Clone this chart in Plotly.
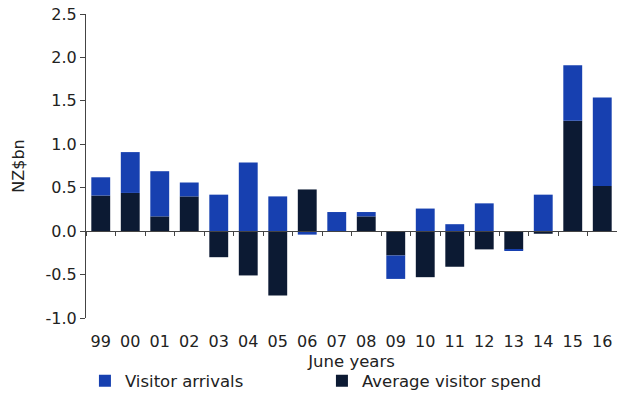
import plotly.graph_objects as go

# June years (two-digit labels)
years = ["99", "00", "01", "02", "03", "04", "05", "06", "07",
         "08", "09", "10", "11", "12", "13", "14", "15", "16"]

# Contribution to change in visitor spending, NZ$bn
avg_spend = [0.41, 0.44, 0.17, 0.40, -0.30, -0.51, -0.74, 0.48, 0.00,
             0.17, -0.28, -0.53, -0.41, -0.21, -0.21, -0.03, 1.27, 0.52]
arrivals = [0.21, 0.47, 0.52, 0.16, 0.42, 0.79, 0.40, -0.04, 0.22,
            0.05, -0.27, 0.26, 0.08, 0.32, -0.01, 0.42, 0.64, 1.02]

y_ticks = [-1.0, -0.5, 0.0, 0.5, 1.0, 1.5, 2.0, 2.5]
y_tick_text = ["-1.0", "-0.5", "0.0", "0.5", "1.0", "1.5", "2.0", "2.5"]

BLUE = "#1740b0"
NAVY = "#0c1a33"
INK = "#222222"
AXIS = "#444444"
FONT = "DejaVu Sans"

fig = go.Figure()
fig.add_trace(go.Bar(x=years, y=avg_spend, name="Average visitor spend",
                     marker=dict(color=NAVY, line=dict(width=0)),
                     legendrank=2))
fig.add_trace(go.Bar(x=years, y=arrivals, name="Visitor arrivals",
                     marker=dict(color=BLUE, line=dict(width=0)),
                     legendrank=1))

fig.update_layout(
    width=617, height=407,
    margin=dict(l=86, r=0, t=14, b=89, autoexpand=False),
    paper_bgcolor="white", plot_bgcolor="white",
    barmode="relative", bargap=0.36,
    font=dict(family=FONT, size=16, color=INK),
    showlegend=True,
    legend=dict(orientation="h", x=-0.002, xanchor="left", y=-0.207,
                yanchor="middle", font=dict(size=16.5, color=INK),
                entrywidth=192, entrywidthmode="pixels",
                itemwidth=30, traceorder="normal"),
    xaxis=dict(
        type="category", categoryorder="array", categoryarray=years,
        range=[-0.5, len(years) - 0.5],
        showline=False, showgrid=False, zeroline=False, ticks="",
        tickfont=dict(size=16, color=INK), ticklabelstandoff=12,
        automargin=False,
        title=dict(text="June years", font=dict(size=16.5, color=INK), standoff=5),
    ),
    # baseline axis carrying the category boundary ticks at y = 0
    xaxis2=dict(
        matches="x", overlaying="x", anchor="free",
        position=1.0 / 3.5,
        showline=True, linecolor=AXIS, linewidth=1,
        ticks="outside", tickson="boundaries", ticklen=4,
        tickcolor=AXIS, showticklabels=False, showgrid=False,
        zeroline=False,
    ),
    yaxis=dict(
        range=[-1.0, 2.5], tickvals=y_ticks, ticktext=y_tick_text,
        showline=True, linecolor=AXIS, linewidth=1,
        ticks="outside", ticklen=5, tickcolor=AXIS,
        showgrid=False, zeroline=False, automargin=False,
        tickfont=dict(size=16, color=INK),
        title=dict(text="NZ$bn", font=dict(size=16, color=INK), standoff=16),
    ),
)

# an invisible trace keeps the baseline axis rendered
fig.add_trace(go.Bar(x=years, y=[None] * len(years), xaxis="x2",
                     showlegend=False, hoverinfo="skip"))

fig.write_html("out.html")
